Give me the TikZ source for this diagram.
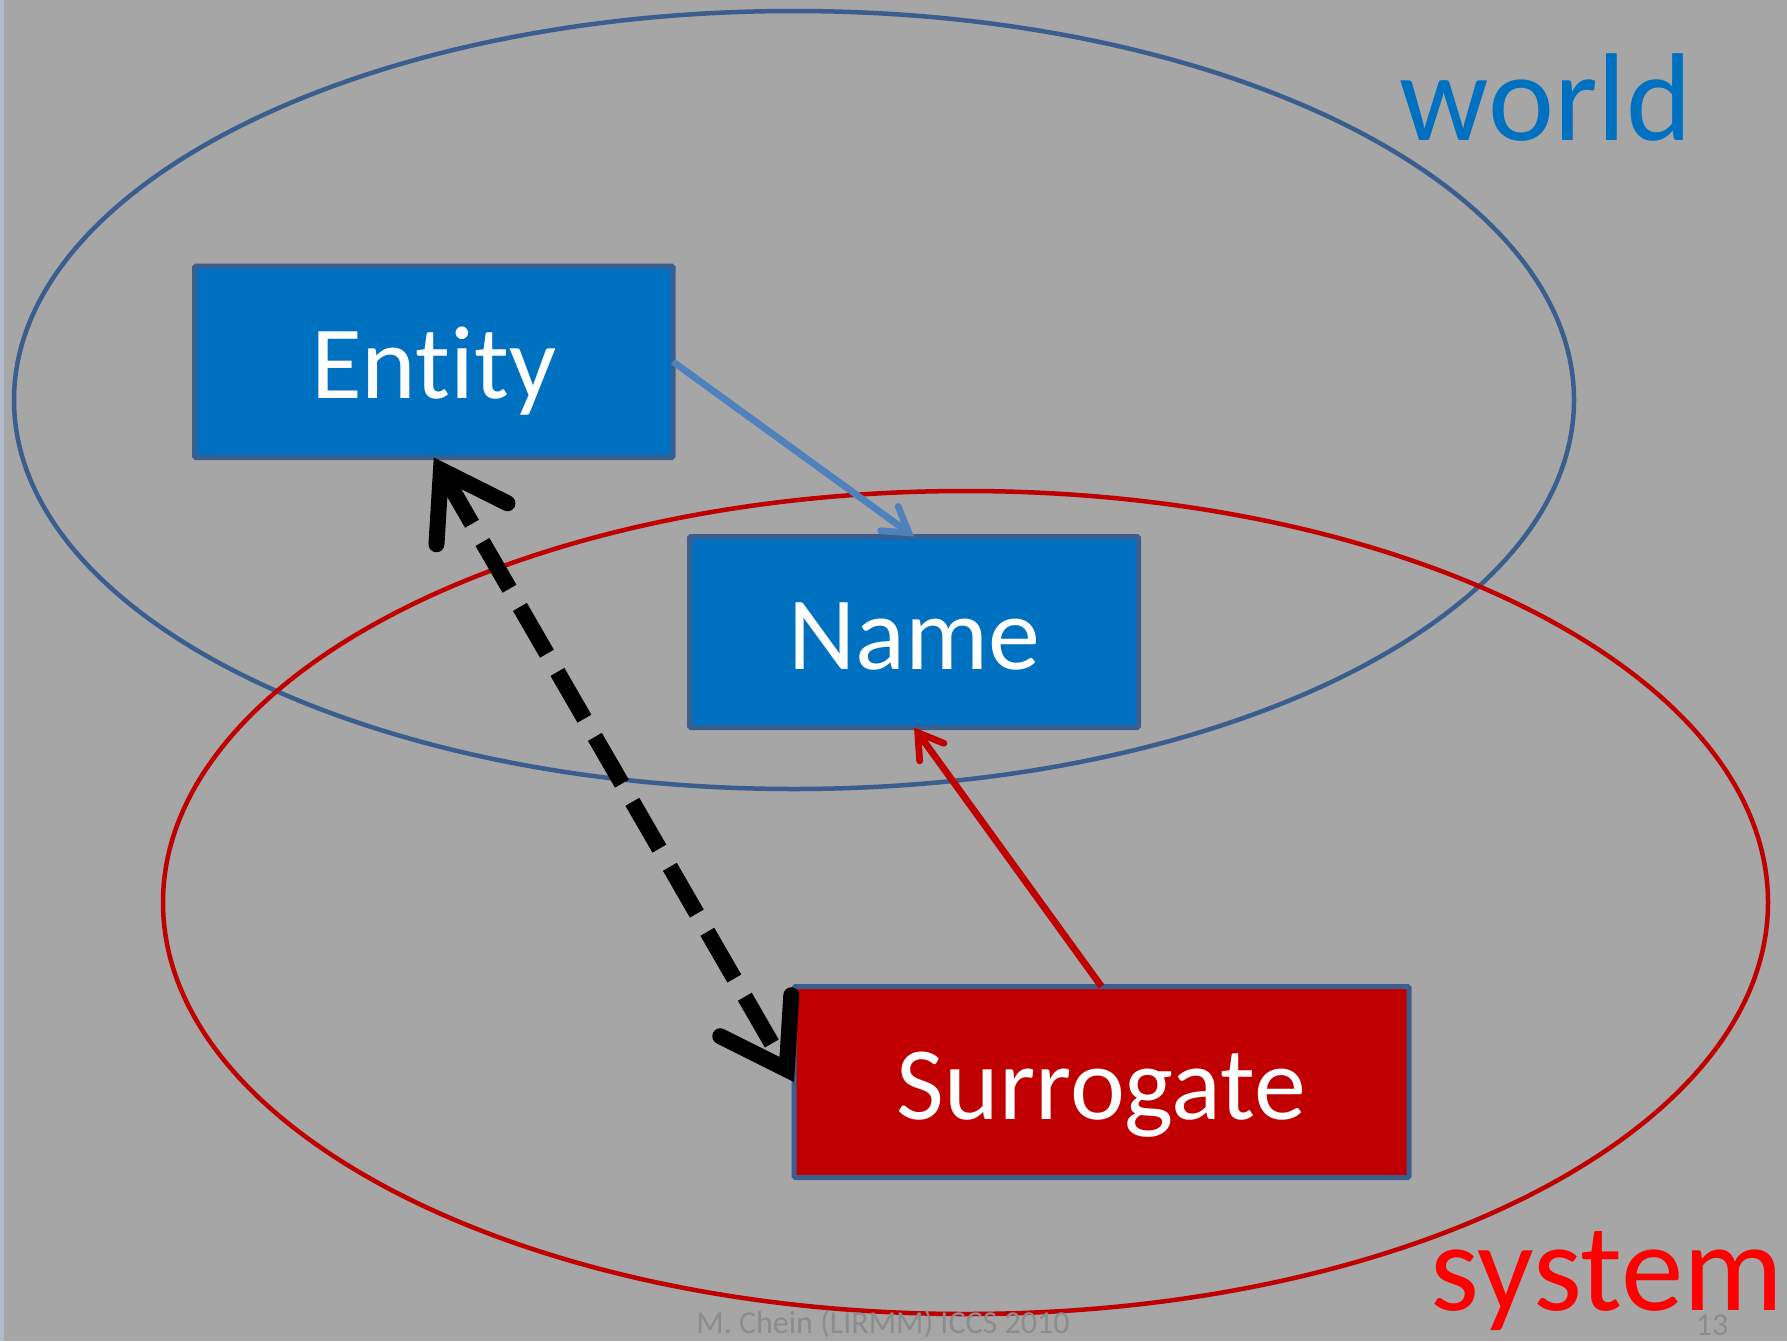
\documentclass[tikz,border=0pt]{standalone}
\usepackage{fontspec}
\setmainfont{Carlito}[Ligatures=NoCommon]
\usetikzlibrary{arrows.meta}
\definecolor{bgcol}{HTML}{A6A6A6}
\definecolor{stripecol}{HTML}{B0BACB}
\definecolor{worldline}{HTML}{3A5F8F}
\definecolor{systemline}{HTML}{C00000}
\definecolor{boxblue}{HTML}{0070C0}
\definecolor{boxred}{HTML}{C00000}
\definecolor{boxborder}{HTML}{3A5F8F}
\definecolor{arrblue}{HTML}{4F81BD}
\definecolor{arrred}{HTML}{C00000}
\definecolor{worldtext}{HTML}{0070C0}
\definecolor{systemtext}{HTML}{FF0000}
\definecolor{footercol}{HTML}{8C8C8C}
\tikzset{
  box/.style={draw=boxborder, line width=5pt, inner sep=0pt, outer sep=0pt,
    text=white, font=\fontsize{104}{110}\selectfont, text height=74pt, text depth=0pt,
    rounded corners=1.5pt},
  bigword/.style={anchor=base, inner sep=0pt, font=\fontsize{125}{130}\selectfont},
  footer/.style={anchor=base, inner sep=0pt, text=footercol, font=\fontsize{32}{36}\selectfont},
  bluearrow/.style={draw=arrblue, line width=6.75pt,
    -{Straight Barb[length=24pt,width=30pt,line cap=round,line join=miter]}},
  redarrow/.style={draw=arrred, line width=6.75pt,
    -{Straight Barb[length=24pt,width=30pt,line cap=round,line join=miter]}},
  dasharrow/.style={draw=black, line width=16pt, dash pattern=on 54pt off 21pt,
    {Straight Barb[length=62pt,width=82pt,line cap=round,line join=miter]}-{Straight Barb[length=62pt,width=82pt,line cap=round,line join=miter]}}
}
\begin{document}
\begin{tikzpicture}[x=1pt,y=-1pt]
\useasboundingbox (0,0) rectangle (1787,1341);
\fill[bgcol] (0,0) rectangle (1787,1341);
\fill[stripecol] (0,0) rectangle (4,1341);
% ellipses
\draw[worldline, line width=4.5pt] (794,400) ellipse [x radius=780pt, y radius=389pt];
\draw[systemline, line width=4.5pt] (965.5,902.5) ellipse [x radius=802.5pt, y radius=411.5pt];
% boxes
\node[box, fill=boxblue, minimum width=478.5pt, minimum height=191.5pt] (entity) at (433.75,361.75) {Entity};
\node[box, fill=boxblue, minimum width=449pt, minimum height=191pt] (name) at (914,632) {Name};
\node[box, fill=boxred, minimum width=615pt, minimum height=191pt] (surrogate) at (1101.5,1082) {Surrogate};
% connectors
\draw[bluearrow] (entity.east) -- (name.north);
\draw[redarrow] (surrogate.north) -- (name.south);
\draw[dasharrow] (entity.south) -- (surrogate.west);
% labels
\node[bigword, text=worldtext] (world) at (1546,140) {world};
\node[bigword, text=systemtext] (system) at (1607,1310) {system};
\node[footer] (footer) at (883,1333) {M. Chein (LIRMM)  ICCS 2010};
\node[footer] (pagenum) at (1712,1335) {13};
\end{tikzpicture}
\end{document}
